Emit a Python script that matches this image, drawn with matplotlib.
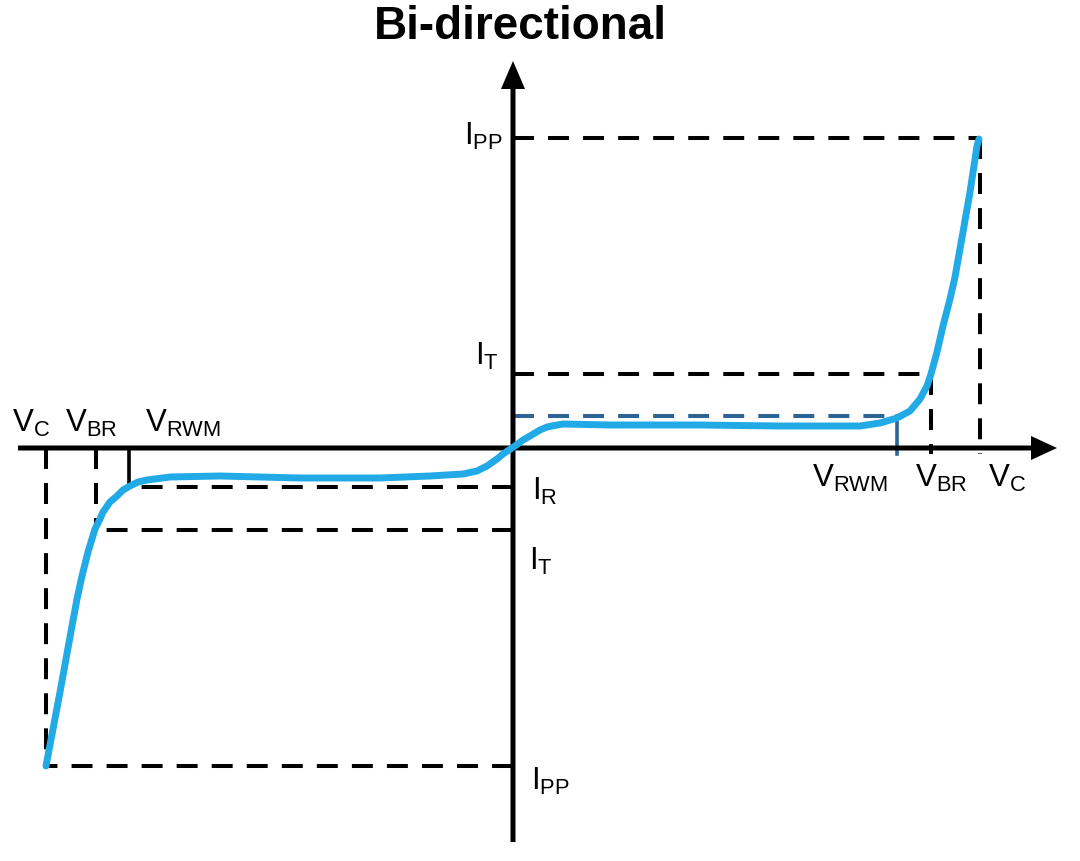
import matplotlib.pyplot as plt

plt.rcParams['font.family'] = ['Liberation Sans', 'DejaVu Sans']

# I-V characteristic of a bi-directional TVS diode (arbitrary units, origin at axes crossing)
curve_v = [-467, -460, -453, -447, -441, -436, -431, -425, -418, -413, -410, -403,
           -396, -390, -383, -375, -366, -343, -293, -213, -133, -83, -50, -36,
           -26, -16, -10, 2, 10, 17, 27, 34, 44, 50, 97, 187, 267, 347, 367,
           384, 397, 407, 414, 418, 424, 430, 437, 442, 450, 457, 464, 466]
curve_i = [-318, -281, -244, -211, -178, -151, -128, -104, -81, -71, -64, -54,
           -48, -42, -38, -34, -32, -29, -28, -30, -30, -28, -26, -23,
           -18, -11, -6, 2, 8, 12, 18, 21, 23, 24, 23, 23, 22, 22, 25,
           30, 37, 49, 62, 74, 96, 122, 149, 171, 216, 256, 302, 309]

# characteristic points (right = positive side, left = negative side)
vc_right, vbr_right, vrwm_right = 467, 418, 384
ipp_right, it_right, ir_right = 310, 74, 32
vc_left, vbr_left, vrwm_left = -467, -417, -384
ipp_left, it_left, ir_left = -318, -82, -39

blue = '#22aae6'
darkblue = '#2d6496'

fig = plt.figure(figsize=(10.8, 8.62), dpi=100)
ax = fig.add_axes([0, 0, 1, 1])
ax.set_xlim(-513, 567)
ax.set_ylim(-413, 449)
ax.axis('off')

dash = dict(color='k', lw=2.9, dashes=(5.2, 3.5), dash_capstyle='butt')

# axes with arrows
ax.arrow(-495, 0, 1039, 0, width=5, head_width=24, head_length=26,
         length_includes_head=True, fc='k', ec='none', zorder=3)
ax.arrow(0, -394, 0, 781, width=5, head_width=24, head_length=28,
         length_includes_head=True, fc='k', ec='none', zorder=3)

# right side guide lines
ax.plot([0, vc_right], [ipp_right, ipp_right], **dash)
ax.plot([vc_right, vc_right], [ipp_right, -6], **dash)
ax.plot([0, vbr_right], [it_right, it_right], **dash)
ax.plot([vbr_right, vbr_right], [it_right, -6], **dash)
ax.plot([0, vrwm_right], [ir_right, ir_right], color=darkblue, lw=2.9,
        dashes=(5.2, 3.5), dash_capstyle='butt')
ax.plot([vrwm_right, vrwm_right], [ir_right, -6], color=darkblue, lw=2.6)

# left side guide lines
ax.plot([0, vc_left], [ipp_left, ipp_left], **dash)
ax.plot([vc_left, vc_left], [0, ipp_left], **dash)
ax.plot([0, vbr_left], [it_left, it_left], **dash)
ax.plot([vbr_left, vbr_left], [0, it_left], **dash)
ax.plot([0, vrwm_left], [ir_left, ir_left], **dash)
ax.plot([vrwm_left, vrwm_left], [0, ir_left], color='k', lw=2.6)

# the curve
ax.plot(curve_v, curve_i, color=blue, lw=5, solid_joinstyle='round',
        solid_capstyle='round', zorder=4)

# labels
fs = 22.5
ax.text(-501, 17, r'$\mathregular{V_C}$', fontsize=fs, va='baseline')
ax.text(-448, 17, r'$\mathregular{V_{BR}}$', fontsize=fs, va='baseline')
ax.text(-368, 17, r'$\mathregular{V_{RWM}}$', fontsize=fs, va='baseline')
ax.text(299, -38, r'$\mathregular{V_{RWM}}$', fontsize=fs, va='baseline')
ax.text(402, -38, r'$\mathregular{V_{BR}}$', fontsize=fs, va='baseline')
ax.text(475, -38, r'$\mathregular{V_C}$', fontsize=fs, va='baseline')
ax.text(-49, 304, r'$\mathregular{I_{PP}}$', fontsize=fs, va='baseline')
ax.text(-38, 84, r'$\mathregular{I_T}$', fontsize=fs, va='baseline')
ax.text(19, -51, r'$\mathregular{I_R}$', fontsize=fs, va='baseline')
ax.text(16, -121, r'$\mathregular{I_T}$', fontsize=fs, va='baseline')
ax.text(18, -341, r'$\mathregular{I_{PP}}$', fontsize=fs, va='baseline')

ax.text(7, 410, 'Bi-directional', fontsize=33, fontweight='bold',
        ha='center', va='baseline')

fig.savefig('out.png', dpi=100)
